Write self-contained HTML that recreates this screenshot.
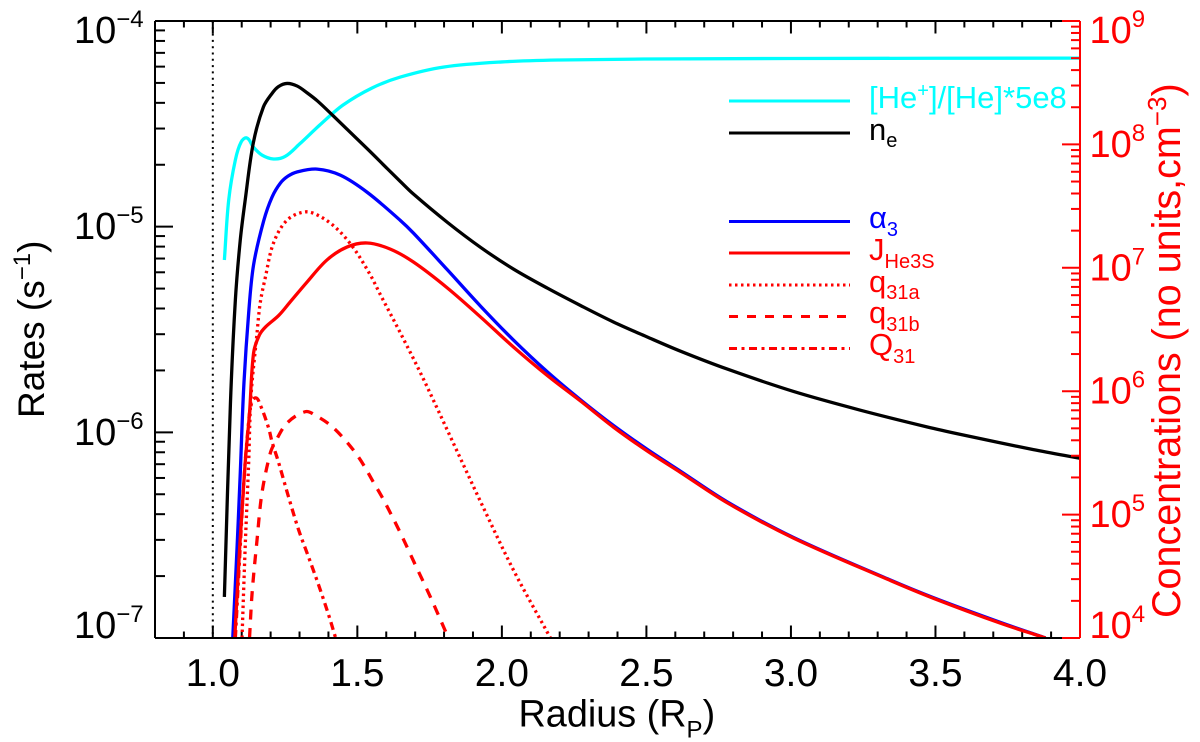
<!DOCTYPE html>
<html lang="en">
<head>
<meta charset="utf-8">
<title>Rates and concentrations vs radius</title>
<style>
html,body{margin:0;padding:0;background:#fff;}
svg{display:block;font-family:"Liberation Sans",Arial,sans-serif;}
</style>
</head>
<body>
<svg id="chart" xmlns="http://www.w3.org/2000/svg" width="1200" height="742" viewBox="0 0 1200 742">
  <defs>
    <clipPath id="plot-clip"><rect x="155" y="21" width="925" height="617"/></clipPath>
  </defs>
  <rect x="0" y="0" width="1200" height="742" fill="#fff"/>
  <g id="ticks-layer"></g>
  <g id="series-layer" clip-path="url(#plot-clip)"></g>
  <g id="axes-layer"></g>
  <g id="labels-layer"></g>

  <text x="518.5" y="726.5" font-size="37.8" fill="#000">Radius (R<tspan font-size="24" dy="11">P</tspan><tspan dy="-11">)</tspan></text>
  <text transform="translate(44,418) rotate(-90)" font-size="37" fill="#000">Rates (s<tspan font-size="24" dy="-14">−1</tspan><tspan dy="14">)</tspan></text>
  <text transform="translate(1180,618) rotate(-90)" font-size="39.5" fill="#f00">Concentrations (no units,cm<tspan font-size="26" dy="-14">−3</tspan><tspan dy="14">)</tspan></text>

  <g>
    <line x1="729" x2="850" y1="101" y2="101" stroke="#0ff" stroke-width="3"/>
    <text x="869" y="108" font-size="31" fill="#0ff">[He<tspan font-size="20" dy="-11">+</tspan><tspan dy="11">]/[He]*5e8</tspan></text>
    <line x1="729" x2="850" y1="133" y2="133" stroke="#000" stroke-width="3"/>
    <text x="869" y="140" font-size="31" fill="#000">n<tspan font-size="20" dy="7">e</tspan></text>
    <line x1="729" x2="850" y1="221.5" y2="221.5" stroke="#00f" stroke-width="3"/>
    <text x="869" y="228" font-size="31" fill="#00f">α<tspan font-size="20" dy="8">3</tspan></text>
    <line x1="729" x2="850" y1="253" y2="253" stroke="#f00" stroke-width="3"/>
    <text x="869" y="260" font-size="31" fill="#f00">J<tspan font-size="20" dy="8">He3S</tspan></text>
    <line x1="729" x2="850" y1="285" y2="285" stroke="#f00" stroke-width="3" stroke-dasharray="2.5 3.5"/>
    <text x="869" y="292" font-size="31" fill="#f00">q<tspan font-size="20" dy="7">31a</tspan></text>
    <line x1="729" x2="850" y1="316.5" y2="316.5" stroke="#f00" stroke-width="3" stroke-dasharray="9 9"/>
    <text x="869" y="323" font-size="31" fill="#f00">q<tspan font-size="20" dy="8">31b</tspan></text>
    <line x1="729" x2="850" y1="348.5" y2="348.5" stroke="#f00" stroke-width="3" stroke-dasharray="8 4.5 3 4.5"/>
    <text x="869" y="355" font-size="31" fill="#f00">Q<tspan font-size="20" dy="8">31</tspan></text>
  </g>
</svg>
<script>
// ---------- chart data ----------
var xTickLabels = ['1.0', '1.5', '2.0', '2.5', '3.0', '3.5', '4.0'];
var leftExponents = [-4, -5, -6, -7];
var rightExponents = [9, 8, 7, 6, 5, 4];
var planetSurface = 1.0;

var heRatioRadius = [1.040, 1.055, 1.078, 1.098, 1.118, 1.140, 1.170, 1.210, 1.250, 1.300, 1.370, 1.450, 1.550, 1.650, 1.800, 2.000, 2.200, 2.500, 3.000, 4.000];
var heRatioValues = [1.156e7, 3.54e7, 7.48e7, 1.045e8, 1.127e8, 9.53e7, 8.2e7, 7.62e7, 7.98e7, 1.007e8, 1.435e8, 2.08e8, 2.86e8, 3.52e8, 4.24e8, 4.66e8, 4.83e8, 4.92e8, 4.97e8, 5.0e8];

var neRadius = [1.040, 1.061, 1.078, 1.095, 1.112, 1.140, 1.175, 1.206, 1.227, 1.257, 1.292, 1.327, 1.362, 1.417, 1.535, 1.604, 1.649, 1.694, 1.811, 1.926, 2.040, 2.157, 2.272, 2.386, 2.503, 2.618, 2.780, 3.009, 3.240, 3.472, 3.586, 3.839, 4.000];
var neValues = [2.15e4, 8.02e5, 5.48e6, 1.68e7, 3.54e7, 1.026e8, 2.01e8, 2.61e8, 2.94e8, 3.12e8, 2.97e8, 2.61e8, 2.25e8, 1.70e8, 9.18e7, 6.35e7, 5.0e7, 3.96e7, 2.34e7, 1.466e7, 9.77e6, 6.85e6, 4.95e6, 3.64e6, 2.75e6, 2.11e6, 1.51e6, 9.95e5, 7.02e5, 5.13e5, 4.47e5, 3.36e5, 2.86e5];

var alpha3Radius = [1.069, 1.084, 1.095, 1.107, 1.124, 1.141, 1.176, 1.205, 1.234, 1.260, 1.291, 1.361, 1.441, 1.535, 1.649, 1.694, 1.811, 1.926, 2.040, 2.157, 2.272, 2.386, 2.503, 2.618, 2.780, 3.009, 3.334, 3.493, 3.725, 3.881];
var alpha3Values = [1.0e-7, 2.77e-7, 6.34e-7, 1.66e-6, 3.80e-6, 6.52e-6, 1.067e-5, 1.393e-5, 1.63e-5, 1.76e-5, 1.845e-5, 1.905e-5, 1.78e-5, 1.466e-5, 1.072e-5, 9.31e-6, 6.18e-6, 4.11e-6, 2.81e-6, 1.97e-6, 1.44e-6, 1.08e-6, 8.26e-7, 6.47e-7, 4.59e-7, 3.08e-7, 1.94e-7, 1.57e-7, 1.19e-7, 1.0e-7];

var jRadius = [1.076, 1.093, 1.112, 1.127, 1.141, 1.161, 1.182, 1.228, 1.268, 1.326, 1.395, 1.464, 1.534, 1.614, 1.694, 1.811, 1.926, 2.040, 2.157, 2.272, 2.386, 2.503, 2.618, 2.780, 3.009, 3.334, 3.493, 3.725, 3.881];
var jValues = [1.0e-7, 2.77e-7, 7.10e-7, 1.24e-6, 2.43e-6, 2.97e-6, 3.25e-6, 3.70e-6, 4.31e-6, 5.38e-6, 6.89e-6, 7.96e-6, 8.33e-6, 7.78e-6, 6.73e-6, 5.04e-6, 3.64e-6, 2.60e-6, 1.89e-6, 1.42e-6, 1.06e-6, 8.11e-7, 6.38e-7, 4.54e-7, 3.06e-7, 1.93e-7, 1.56e-7, 1.18e-7, 1.0e-7];

var q31aRadius = [1.101, 1.112, 1.124, 1.132, 1.153, 1.164, 1.182, 1.210, 1.257, 1.320, 1.372, 1.430, 1.487, 1.545, 1.580, 1.649, 1.718, 1.776, 1.856, 1.926, 2.040, 2.168];
var q31aValues = [1.0e-7, 2.77e-7, 7.10e-7, 1.49e-6, 3.04e-6, 4.26e-6, 5.69e-6, 8.33e-6, 1.076e-5, 1.18e-5, 1.12e-5, 9.75e-6, 7.87e-6, 5.82e-6, 4.66e-6, 3.04e-6, 1.95e-6, 1.31e-6, 7.50e-7, 4.61e-7, 2.14e-7, 1.0e-7];

var q31bRadius = [1.127, 1.136, 1.153, 1.170, 1.199, 1.216, 1.257, 1.320, 1.355, 1.418, 1.499, 1.562, 1.591, 1.649, 1.701, 1.753, 1.815];
var q31bValues = [1.0e-7, 1.66e-7, 3.0e-7, 5.07e-7, 7.94e-7, 8.97e-7, 1.11e-6, 1.26e-6, 1.21e-6, 1.05e-6, 7.76e-7, 5.52e-7, 4.69e-7, 3.24e-7, 2.26e-7, 1.58e-7, 1.0e-7];

var q31TotalRadius = [1.078, 1.095, 1.110, 1.123, 1.131, 1.147, 1.164, 1.193, 1.205, 1.227, 1.262, 1.297, 1.331, 1.366, 1.401, 1.425];
var q31TotalValues = [1.0e-7, 2.8e-7, 6.56e-7, 1.09e-6, 1.33e-6, 1.47e-6, 1.36e-6, 1.05e-6, 8.97e-7, 7.18e-7, 4.85e-7, 3.35e-7, 2.48e-7, 1.81e-7, 1.29e-7, 1.0e-7];

// ---------- axis functions ----------
var NS = 'http://www.w3.org/2000/svg';
var PLOT_LEFT = 155, PLOT_RIGHT = 1080, PLOT_TOP = 21, PLOT_BOTTOM = 638;
function xScale(r) { return PLOT_LEFT + (r - 0.8) / 3.2 * (PLOT_RIGHT - PLOT_LEFT); }
function yLeft(v) { return PLOT_TOP + (-4 - Math.log10(v)) / 3 * (PLOT_BOTTOM - PLOT_TOP); }
function yRight(v) { return PLOT_TOP + (9 - Math.log10(v)) / 5 * (PLOT_BOTTOM - PLOT_TOP); }

function line(parent, x1, y1, x2, y2, color, width) {
  var el = document.createElementNS(NS, 'line');
  el.setAttribute('x1', x1);
  el.setAttribute('y1', y1);
  el.setAttribute('x2', x2);
  el.setAttribute('y2', y2);
  el.setAttribute('stroke', color);
  el.setAttribute('stroke-width', width);
  parent.appendChild(el);
  return el;
}

function smoothPath(radius, values, yFn) {
  var p = radius.map(function (r, i) { return [xScale(r), yFn(values[i])]; });
  var d = 'M' + p[0][0].toFixed(2) + ' ' + p[0][1].toFixed(2);
  function tangent(i) {
    var a = p[Math.max(i - 1, 0)], b = p[Math.min(i + 1, p.length - 1)];
    var dx = b[0] - a[0], dy = b[1] - a[1], n = Math.sqrt(dx * dx + dy * dy) || 1;
    return [dx / n, dy / n];
  }
  for (var i = 0; i < p.length - 1; i++) {
    var s = p[i], e = p[i + 1];
    var len = Math.sqrt(Math.pow(e[0] - s[0], 2) + Math.pow(e[1] - s[1], 2)) / 3;
    var t0 = tangent(i), t1 = tangent(i + 1);
    d += 'C' + (s[0] + t0[0] * len).toFixed(2) + ' ' + (s[1] + t0[1] * len).toFixed(2) + ' ' +
      (e[0] - t1[0] * len).toFixed(2) + ' ' + (e[1] - t1[1] * len).toFixed(2) + ' ' +
      e[0].toFixed(2) + ' ' + e[1].toFixed(2);
  }
  return d;
}

function drawSeries(name, radius, values, yFn, color, dash) {
  var el = document.createElementNS(NS, 'path');
  
  
  el.setAttribute('d', smoothPath(radius, values, yFn));
  el.setAttribute('fill', 'none');
  el.setAttribute('stroke', color);
  el.setAttribute('stroke-width', '3.3');
  el.setAttribute('stroke-linejoin', 'round');
  if (dash) el.setAttribute('stroke-dasharray', dash);
  document.getElementById('series-layer').appendChild(el);
}

function logLabel(parent, name, x, baseline, exponent, color) {
  var t = document.createElementNS(NS, 'text');
  
  
  t.setAttribute('x', x);
  t.setAttribute('y', baseline);
  t.setAttribute('font-size', '38');
  t.setAttribute('fill', color);
  t.appendChild(document.createTextNode('10'));
  var s = document.createElementNS(NS, 'tspan');
  s.setAttribute('font-size', '24');
  s.setAttribute('dy', '-16');
  s.textContent = String(exponent).replace('-', '−');
  t.appendChild(s);
  parent.appendChild(t);
}

var tickLayer = document.getElementById('ticks-layer');
var axesLayer = document.getElementById('axes-layer');
var labelLayer = document.getElementById('labels-layer');

// x ticks (top + bottom)
for (var k = 8; k <= 40; k++) {
  var tx = xScale(k / 10);
  var major = k % 5 === 0;
  var tl = major ? 12.5 : 6.5;
  line(tickLayer, tx, PLOT_BOTTOM, tx, PLOT_BOTTOM - tl, '#000', 2);
  line(tickLayer, tx, PLOT_TOP, tx, PLOT_TOP + tl, '#000', 2);
}

// x tick labels
xTickLabels.forEach(function (lab) {
  var t = document.createElementNS(NS, 'text');
  
  
  t.setAttribute('x', xScale(parseFloat(lab)));
  t.setAttribute('y', 686);
  t.setAttribute('font-size', '39');
  t.setAttribute('text-anchor', 'middle');
  t.setAttribute('fill', '#000');
  t.textContent = lab;
  labelLayer.appendChild(t);
});

// left log ticks
for (var e1 = -7; e1 <= -5; e1++) {
  for (var m1 = 1; m1 <= 9; m1++) {
    var ly = yLeft(m1 * Math.pow(10, e1));
    line(tickLayer, PLOT_LEFT, ly, PLOT_LEFT + (m1 === 1 ? 18 : 10), ly, '#000', 2);
  }
}
line(tickLayer, PLOT_LEFT, PLOT_TOP, PLOT_LEFT + 18, PLOT_TOP, '#000', 2);

leftExponents.forEach(function (ex) {
  var b = Math.max(43, Math.min(638, yLeft(Math.pow(10, ex)) + 12.5));
  logLabel(labelLayer, 'left-y-tick-label', 74, b, ex, '#000');
});

// right log ticks
for (var e2 = 4; e2 <= 8; e2++) {
  for (var m2 = 1; m2 <= 9; m2++) {
    var ry = yRight(m2 * Math.pow(10, e2));
    line(axesLayer, PLOT_RIGHT, ry, PLOT_RIGHT - (m2 === 1 ? 18 : 9), ry, '#f00', 2);
  }
}
line(axesLayer, PLOT_RIGHT, PLOT_TOP, PLOT_RIGHT - 18, PLOT_TOP, '#f00', 2);

rightExponents.forEach(function (ex) {
  var b = Math.max(43, Math.min(638, yRight(Math.pow(10, ex)) + 12.5));
  logLabel(labelLayer, 'right-y-tick-label', 1089.5, b, ex, '#f00');
});

// surface marker
var surface = line(tickLayer, xScale(planetSurface), PLOT_TOP, xScale(planetSurface), PLOT_BOTTOM, '#000', 2);
surface.setAttribute('stroke-dasharray', '2 4.3');



// series
drawSeries('series-he-ratio', heRatioRadius, heRatioValues, yRight, '#0ff');
drawSeries('series-ne', neRadius, neValues, yRight, '#000');
drawSeries('series-alpha3', alpha3Radius, alpha3Values, yLeft, '#00f');
drawSeries('series-q31a', q31aRadius, q31aValues, yLeft, '#f00', '2.5 3.5');
drawSeries('series-q31b', q31bRadius, q31bValues, yLeft, '#f00', '10 8.5');
drawSeries('series-q31-total', q31TotalRadius, q31TotalValues, yLeft, '#f00', '8 4.5 3 4.5');
drawSeries('series-jhe3s', jRadius, jValues, yLeft, '#f00');

// axis lines
var topAxis = line(axesLayer, PLOT_LEFT, PLOT_TOP, PLOT_RIGHT, PLOT_TOP, '#000', 2);


var bottomAxis = line(axesLayer, PLOT_LEFT, PLOT_BOTTOM, PLOT_RIGHT, PLOT_BOTTOM, '#000', 2);


var leftAxis = line(axesLayer, PLOT_LEFT, PLOT_TOP, PLOT_LEFT, PLOT_BOTTOM, '#000', 2);


var rightAxis = line(axesLayer, PLOT_RIGHT, PLOT_TOP, PLOT_RIGHT, PLOT_BOTTOM, '#f00', 2);


// red ticks at the corners sit over the black frame
line(axesLayer, PLOT_RIGHT, PLOT_TOP, PLOT_RIGHT - 18, PLOT_TOP, '#f00', 2);
line(axesLayer, PLOT_RIGHT, PLOT_BOTTOM, PLOT_RIGHT - 18, PLOT_BOTTOM, '#f00', 2);
</script>
</body>
</html>
